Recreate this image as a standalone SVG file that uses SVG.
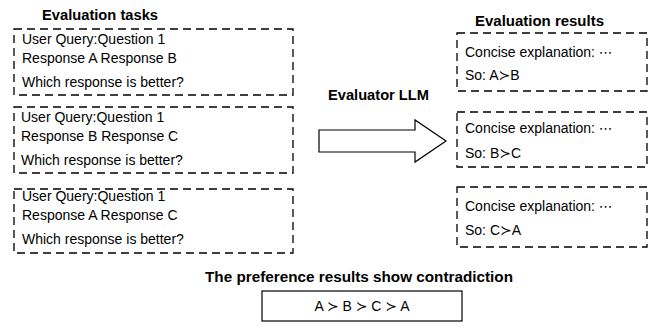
<svg xmlns="http://www.w3.org/2000/svg" width="649" height="333" viewBox="0 0 649 333">
<style>
text{font-family:"Liberation Sans","DejaVu Sans",sans-serif;fill:#000}
.t{font-size:14px}
.b{font-size:14.5px;font-weight:bold}
.d{fill:none;stroke:#000;stroke-width:1.3;stroke-dasharray:8 5}
.s{fill:#fff;stroke:#000;stroke-width:1.2}
</style>
<rect width="649" height="333" fill="#fff"/>
<text class="b" x="42" y="20" textLength="116" lengthAdjust="spacingAndGlyphs">Evaluation tasks</text>
<text class="b" x="475" y="26" textLength="129" lengthAdjust="spacingAndGlyphs">Evaluation results</text>
<g id="task1">
<rect class="d" x="14" y="29" width="279" height="66"/>
<text class="t" x="22" y="44">User Query:Question 1</text>
<text class="t" x="22" y="63">Response A Response B</text>
<text class="t" x="22" y="87">Which response is better?</text>
</g>
<g id="task2">
<rect class="d" x="14" y="107" width="279" height="66"/>
<text class="t" x="21" y="122">User Query:Question 1</text>
<text class="t" x="21" y="141">Response B Response C</text>
<text class="t" x="21" y="165">Which response is better?</text>
</g>
<g id="task3">
<rect class="d" x="14" y="189" width="279" height="64"/>
<text class="t" x="22" y="201">User Query:Question 1</text>
<text class="t" x="22" y="220">Response A Response C</text>
<text class="t" x="22" y="244">Which response is better?</text>
</g>
<g id="evaluator">
<text class="b" x="328" y="100" textLength="101" lengthAdjust="spacingAndGlyphs">Evaluator LLM</text>
</g>
<g id="connectors">
<path class="s" d="M319,130 H415 V120 L446,141 L415,162 V152 H319 Z"/>
</g>
<g id="result1">
<rect class="d" x="457" y="33" width="190" height="58"/>
<text class="t" x="465" y="57">Concise explanation: ⋯</text>
<text class="t" x="465" y="80">So: A≻B</text>
</g>
<g id="result2">
<rect class="d" x="457" y="112" width="190" height="55"/>
<text class="t" x="465" y="133">Concise explanation: ⋯</text>
<text class="t" x="465" y="158">So: B≻C</text>
</g>
<g id="result3">
<rect class="d" x="457" y="187" width="190" height="60"/>
<text class="t" x="465" y="211">Concise explanation: ⋯</text>
<text class="t" x="465" y="235">So: C≻A</text>
</g>
<g id="conclusion">
<text class="b" x="205" y="282" textLength="308" lengthAdjust="spacingAndGlyphs">The preference results show contradiction</text>
<rect class="s" x="262" y="291" width="200" height="30"/>
<text class="t" x="362" y="311" text-anchor="middle">A ≻ B ≻ C ≻ A</text>
</g>
</svg>
